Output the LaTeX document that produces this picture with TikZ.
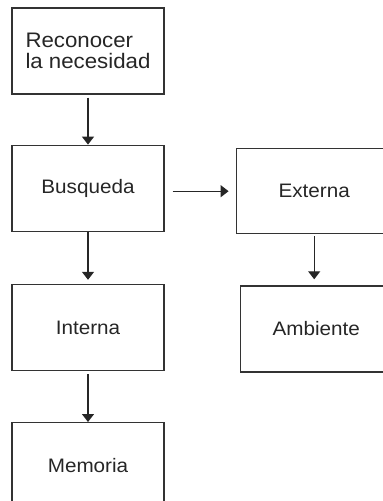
\documentclass[tikz,border=0pt]{standalone}
\usepackage{fontspec}
\setmainfont[FakeStretch=1.06]{Liberation Sans}
\usetikzlibrary{arrows.meta, positioning}

\begin{document}
\begin{tikzpicture}[
    x=1pt, y=-1pt,
    box/.style={rectangle, draw=black!80, line width=1.2pt, align=center, minimum width=152pt, minimum height=86pt, inner sep=0pt, text=black!85, font=\fontsize{19.5}{20}\selectfont},
    line/.style={draw, black!85, line width=1.3pt, -{Triangle[width=12pt, length=8pt]}}
]
\clip (0,0) rectangle (383,501);

% Nodes
\node[box, align=left, font=\fontsize{21}{21}\selectfont] (recon) at (88,51) {Reconocer\\la necesidad};
\node[box, below=50pt of recon] (busq) {Busqueda};
\node[box, below=52pt of busq] (inter) {Interna};
\node[box, below=51pt of inter] (mem) {Memoria};

\node[box, minimum width=156pt, minimum height=85pt, right=71pt of busq, yshift=-3pt] (ext) {Externa};
\node[box, below=51pt of ext, xshift=2pt] (amb) {Ambiente};

% Connections
\draw[line, shorten <=3pt] (recon.south) -- (busq.north);
\draw[line, shorten <=8pt, shorten >=7pt] (busq.east |- ext.west) -- (ext.west);
\draw[line, shorten >=4pt] (busq.south) -- (inter.north);
\draw[line, shorten <=2pt, shorten >=6pt] (ext.south) -- (ext.south |- amb.north);
\draw[line, shorten <=3pt] (inter.south) -- (mem.north);

\end{tikzpicture}
\end{document}
